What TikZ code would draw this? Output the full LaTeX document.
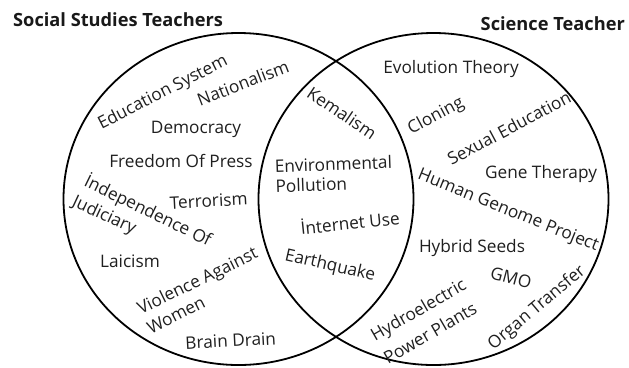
\documentclass[tikz,border=0pt]{standalone}
\usepackage{fontspec}
\setmainfont{Open Sans}
\begin{document}
\begin{tikzpicture}[x=1bp,y=-1bp,
  lab/.style={font=\fontsize{17.3}{20}\selectfont, inner sep=0pt, text=black!88},
  ttl/.style={font=\bfseries\fontsize{18.3}{20}\selectfont, inner sep=0pt, text=black!90},
  ring/.style={line width=1.8bp, draw=black}]
\useasboundingbox (0,0) rectangle (629,367);
% circles
\draw[ring] (238.5,199) ellipse [x radius=175bp, y radius=166bp];
\draw[ring] (433.5,199) ellipse [x radius=175bp, y radius=166bp];
% titles
\node[ttl, anchor=base west] (tl) at (13,26) {Social Studies Teachers};
\node[ttl, anchor=base east] (tr) at (625,30) {Science Teacher};
% left only
\node[lab, rotate=27] (edu) at (163,93) {Education System};
\node[lab, rotate=21] (nat) at (243,83) {Nationalism};
\node[lab, anchor=base] (dem) at (196,133) {Democracy};
\node[lab, anchor=base] (fop) at (181,167) {Freedom Of Press};
\node[lab, anchor=base, rotate=3] (ter) at (209,207) {Terrorism};
\node[lab, rotate=-26] (ind) at (148,211) {İndependence Of};
\node[lab, rotate=-25] (jud) at (104,216) {Judiciary};
\node[lab, anchor=base] (lai) at (130,267) {Laicism};
\node[lab, rotate=26] (vio) at (198,282) {Violence Against};
\node[lab, rotate=27] (wom) at (176,315) {Women};
\node[lab, anchor=base, rotate=3] (bra) at (231,347) {Brain Drain};
% intersection
\node[lab, rotate=-34] (kem) at (342,113) {Kemalism};
\node[lab, align=left, anchor=west, rotate=2] (env) at (275,176) {Environmental\\Pollution};
\node[lab, rotate=6] (int) at (350,222) {İnternet Use};
\node[lab, rotate=-13] (ear) at (330,266) {Earthquake};
% right only
\node[lab, anchor=base] (evo) at (451,73) {Evolution Theory};
\node[lab, rotate=28] (clo) at (436,116) {Cloning};
\node[lab, rotate=28] (sex) at (509,128) {Sexual Education};
\node[lab, anchor=base] (gen) at (541,178) {Gene Therapy};
\node[lab, rotate=-22] (hgp) at (508,211) {Human Genome Project};
\node[lab, anchor=base] (hyb) at (472,252) {Hybrid Seeds};
\node[lab, rotate=-15] (gmo) at (511,278) {GMO};
\node[lab, rotate=30] (hyd) at (419,311) {Hydroelectric};
\node[lab, rotate=30] (pow) at (430,333) {Power Plants};
\node[lab, rotate=40] (org) at (537,308) {Organ Transfer};
\end{tikzpicture}
\end{document}
